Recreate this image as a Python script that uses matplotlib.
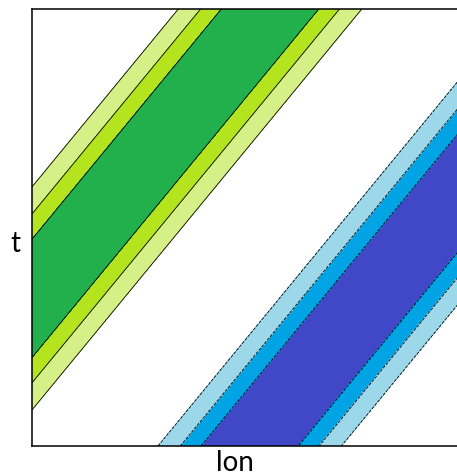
import numpy as np
import matplotlib
matplotlib.use('Agg')
import matplotlib.pyplot as plt

# travelling wave (lon in degrees, t normalised 0..1)
lon = np.linspace(0, 360, 721)
t = np.linspace(0, 1, 401)
phase_speed = 303.5      # lon shift over the whole t range
wavelength = 572.6       # lon
trough_lon = 183.8       # lon of the blue band centre at t=0

levels = [-1.0, -0.9, -0.8, -0.66, 0.66, 0.8, 0.9, 1.0]
fill_colors = ['#4048c8', '#00a4e4', '#9cd8ea', 'none',
               '#d6f088', '#b4e41e', '#22b04c']

LON, T = np.meshgrid(lon, t)
field = -np.cos(2 * np.pi * (LON - phase_speed * T - trough_lon) / wavelength)

fig = plt.figure(figsize=(4.57, 4.77), dpi=100)
ax = fig.add_axes([32/457, 1 - 447/477, 1.003 - 32/457, 437/477])
ax.contourf(LON, T, field, levels=levels, colors=fill_colors)
ax.contour(LON, T, field, levels=levels[1:-1], colors='k', linewidths=0.6)
ax.set_xlim(0, 360)
ax.set_ylim(0, 1)
ax.set_xticks([])
ax.set_yticks([])
for sp in ax.spines.values():
    sp.set_linewidth(1.1)

ax.set_xlabel('lon', fontsize=20, family='Lato')
ax.xaxis.set_label_coords(0.475, -0.008)
ax.set_ylabel('t', fontsize=20, family='Lato', rotation=0, ha='center', va='center')
ax.yaxis.set_label_coords(-0.04, 0.465)

plt.savefig('out.png', dpi=100)
